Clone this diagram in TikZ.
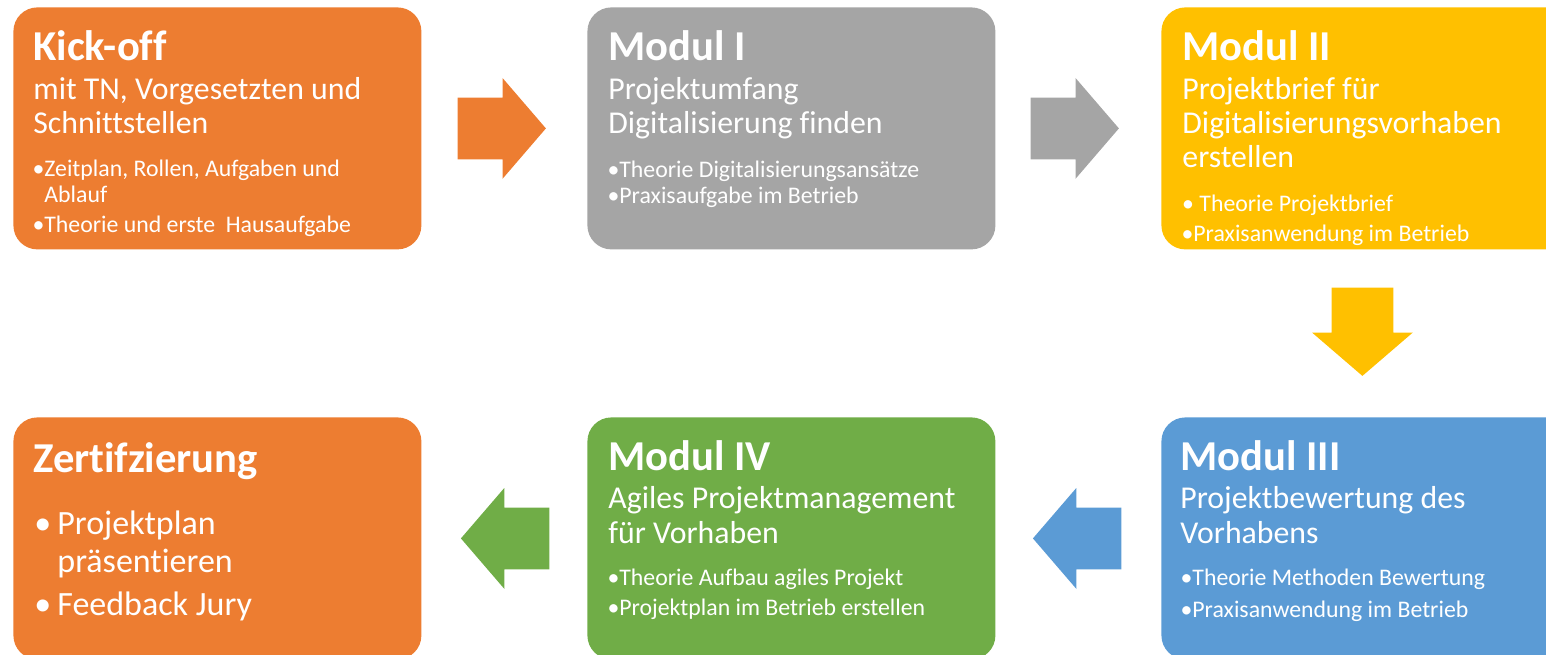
\documentclass[tikz,border=0pt]{standalone}
\usepackage{fontspec}
\setmainfont{Carlito}[Ligatures=NoCommon]
\usetikzlibrary{shapes.arrows,calc}

\definecolor{korange}{HTML}{ED7D31}
\definecolor{kgray}{HTML}{A5A5A5}
\definecolor{kyellow}{HTML}{FFC000}
\definecolor{kblue}{HTML}{5B9BD5}
\definecolor{kgreen}{HTML}{70AD47}

\begin{document}
\begin{tikzpicture}[x=0.5pt,y=-0.5pt,
    box/.style = {anchor=north west,minimum width=204pt,minimum height=121pt,rounded corners=12pt,inner sep=0pt},
    ttl/.style = {anchor=base west,inner sep=0pt,text=white,font=\fontsize{21.3}{25}\selectfont\bfseries},
    sub/.style = {anchor=base west,inner sep=0pt,text=white,font=\fontsize{15.9}{19}\selectfont},
    bul/.style = {anchor=base west,inner sep=0pt,text=white,font=\fontsize{11.9}{14}\selectfont},
    bigbul/.style = {anchor=base west,inner sep=0pt,text=white,font=\fontsize{17}{20}\selectfont},
    blockarrow/.style = {single arrow,draw=none,inner sep=15.25pt,minimum height=43pt,
                         single arrow head extend=9.75pt,single arrow tip angle=98.6}]
    \useasboundingbox (0,0) rectangle (1546,654);
    \clip (0,0) rectangle (1546,654);

    % Top row
    \node [box,fill=korange] (kick) at (13,7) {};
    \node [box,fill=kgray] (modI) at (587,7) {};
    \node [box,fill=kyellow] (modII) at (1161,7) {};

    % Bottom row
    \node [box,fill=kblue] (modIII) at (1161,417) {};
    \node [box,fill=kgreen] (modIV) at (587,417) {};
    \node [box,fill=korange] (zert) at (13,417) {};

    % Kick-off
    \node [ttl] (kick-t) at (33,60) {Kick-off};
    \node [sub] (kick-s1) at (33,99) {mit TN, Vorgesetzten und};
    \node [sub] (kick-s2) at (33,133) {Schnittstellen};
    \node [bul] (kick-b1) at (44,176) {\llap{•}Zeitplan, Rollen, Aufgaben und};
    \node [bul] (kick-b2) at (44,202) {Ablauf};
    \node [bul] (kick-b3) at (44,232) {\llap{•}Theorie und erste\ \ Hausaufgabe};

    % Modul I
    \node [ttl] (modI-t) at (608,60) {Modul I};
    \node [sub] (modI-s1) at (608,99) {Projektumfang};
    \node [sub] (modI-s2) at (608,133) {Digitalisierung finden};
    \node [bul] (modI-b1) at (619,177) {\llap{•}Theorie Digitalisierungsansätze};
    \node [bul] (modI-b2) at (619,203) {\llap{•}Praxisaufgabe im Betrieb};

    % Modul II
    \node [ttl] (modII-t) at (1182,60) {Modul II};
    \node [sub] (modII-s1) at (1182,99) {Projektbrief für};
    \node [sub] (modII-s2) at (1182,133) {Digitalisierungsvorhaben};
    \node [sub] (modII-s3) at (1182,167) {erstellen};
    \node [bul] (modII-b1) at (1199,211) {\llap{•\ }Theorie Projektbrief};
    \node [bul] (modII-b2) at (1193,241) {\llap{•}Praxisanwendung im Betrieb};

    % Modul III
    \node [ttl] (modIII-t) at (1180,470) {Modul III};
    \node [sub] (modIII-s1) at (1180,508) {Projektbewertung des};
    \node [sub] (modIII-s2) at (1180,543) {Vorhabens};
    \node [bul] (modIII-b1) at (1192,585) {\llap{•}Theorie Methoden Bewertung};
    \node [bul] (modIII-b2) at (1192,617) {\llap{•}Praxisanwendung im Betrieb};

    % Modul IV
    \node [ttl] (modIV-t) at (608,470) {Modul IV};
    \node [sub] (modIV-s1) at (608,508) {Agiles Projektmanagement};
    \node [sub] (modIV-s2) at (608,543) {für Vorhaben};
    \node [bul] (modIV-b1) at (619,585) {\llap{•}Theorie Aufbau agiles Projekt};
    \node [bul] (modIV-b2) at (619,615) {\llap{•}Projektplan im Betrieb erstellen};

    % Zertifizierung
    \node [ttl] (zert-t) at (33,472) {Zertifzierung};
    \node [bigbul] (zert-b1) at (57,534) {\llap{•\hspace{3pt}}Projektplan};
    \node [bigbul] (zert-b2) at (57,572) {präsentieren};
    \node [bigbul] (zert-b3) at (57,615) {\llap{•\hspace{3pt}}Feedback Jury};

    % Arrows between the boxes
    \node [blockarrow,fill=korange,xshift=-8pt] (a1) at ($(kick.east)!.5!(modI.west)$) {};
    \node [blockarrow,fill=kgray,xshift=-8.5pt] (a2) at ($(modI.east)!.5!(modII.west)$) {};
    \node [blockarrow,fill=kyellow,shape border rotate=270,xshift=-1.5pt,yshift=7.5pt] (a3) at ($(modII.south)!.5!(modIII.north)$) {};
    \node [blockarrow,fill=kblue,shape border rotate=180,xshift=6pt] (a4) at ($(modIII.west)!.5!(modIV.east)$) {};
    \node [blockarrow,fill=kgreen,shape border rotate=180,xshift=7pt] (a5) at ($(modIV.west)!.5!(zert.east)$) {};
\end{tikzpicture}
\end{document}
